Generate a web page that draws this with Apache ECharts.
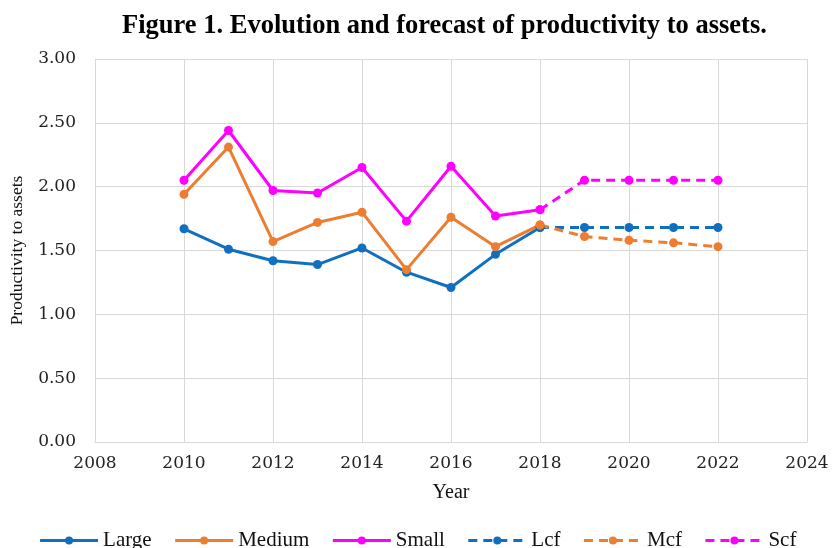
<!DOCTYPE html>
<html>
<head>
<meta charset="utf-8">
<script src="https://cdn.jsdelivr.net/npm/echarts@6/dist/echarts.min.js"></script>
<style>
  html, body { margin: 0; padding: 0; background: #fff; }
  #main { width: 835px; height: 548px; }
</style>
</head>
<body>
<div id="main"></div>
<script>
// observed years and values
var years = [2010, 2011, 2012, 2013, 2014, 2015, 2016, 2017, 2018];
var large = [1.67, 1.51, 1.42, 1.39, 1.52, 1.33, 1.21, 1.47, 1.68];
var medium = [1.94, 2.31, 1.57, 1.72, 1.80, 1.35, 1.76, 1.53, 1.70];
var small = [2.05, 2.44, 1.97, 1.95, 2.15, 1.73, 2.16, 1.77, 1.82];

// forecast (starts from the last observed year)
var fcYears = [2018, 2019, 2020, 2021, 2022];
var lcf = [1.68, 1.68, 1.68, 1.68, 1.68];
var mcf = [1.70, 1.61, 1.58, 1.56, 1.53];
var scf = [1.82, 2.05, 2.05, 2.05, 2.05];

var legendNames = ["Large", "Medium", "Small", "Lcf", "Mcf", "Scf"];

var blue = "#1070bf";
var orange = "#ed7d31";
var pink = "#ff00ff";

function pairs(xs, ys) {
  return xs.map(function (x, i) { return [x, ys[i]]; });
}

function makeSeries(name, xs, ys, color, dashed) {
  return {
    name: name,
    type: "line",
    data: pairs(xs, ys),
    symbol: "circle",
    symbolSize: 9,
    itemStyle: { color: color },
    lineStyle: { color: color, width: 3, type: dashed ? [9, 6] : "solid" },
    z: dashed ? 2 : 3,
  };
}

var chart = echarts.init(document.getElementById("main"));
var serif = "'Liberation Serif', 'Times New Roman', serif";
var tickFont = "'DejaVu Serif', serif";

var option = {
  animation: false,
  textStyle: { fontFamily: serif },
  title: {
    text: "Figure 1. Evolution and forecast of productivity to assets.",
    left: 117,
    top: 8,
    textStyle: { fontFamily: serif, fontSize: 26.5, fontWeight: "bold", color: "#000" },
  },
  grid: { left: 95, right: 28, top: 59, bottom: 106 },
  xAxis: {
    type: "value",
    min: 2008,
    max: 2024,
    interval: 2,
    name: "Year",
    nameLocation: "middle",
    nameGap: 41,
    nameTextStyle: { fontFamily: serif, fontSize: 20, color: "#111" },
    axisLine: { show: true, lineStyle: { color: "#d9d9d9" } },
    axisTick: { show: false },
    axisLabel: {
      fontFamily: tickFont,
      fontSize: 17,
      color: "#222",
      margin: 13,
      formatter: function (v) { return String(v); },
    },
    splitLine: { show: true, lineStyle: { color: "#d9d9d9", width: 1 } },
  },
  yAxis: {
    type: "value",
    min: 0,
    max: 3,
    interval: 0.5,
    name: "Productivity to assets",
    nameLocation: "middle",
    nameGap: 69,
    nameTextStyle: { fontFamily: serif, fontSize: 17.5, color: "#111" },
    axisLine: { show: false },
    axisTick: { show: false },
    axisLabel: {
      fontFamily: tickFont,
      fontSize: 17,
      color: "#222",
      margin: 19,
      formatter: function (v) { return v.toFixed(2); },
    },
    splitLine: { lineStyle: { color: "#d9d9d9", width: 1 } },
  },
  legend: {
    top: 525,
    left: "center",
    itemWidth: 58,
    itemHeight: 10,
    itemGap: 22,
    lineStyle: { width: 3 },
    textStyle: { fontFamily: serif, fontSize: 21, color: "#111" },
    data: legendNames,
  },
  series: [
    makeSeries("Large", years, large, blue, false),
    makeSeries("Medium", years, medium, orange, false),
    makeSeries("Small", years, small, pink, false),
    makeSeries("Lcf", fcYears, lcf, blue, true),
    makeSeries("Mcf", fcYears, mcf, orange, true),
    makeSeries("Scf", fcYears, scf, pink, true),
  ],
};

option && chart.setOption(option);
</script>
</body>
</html>
